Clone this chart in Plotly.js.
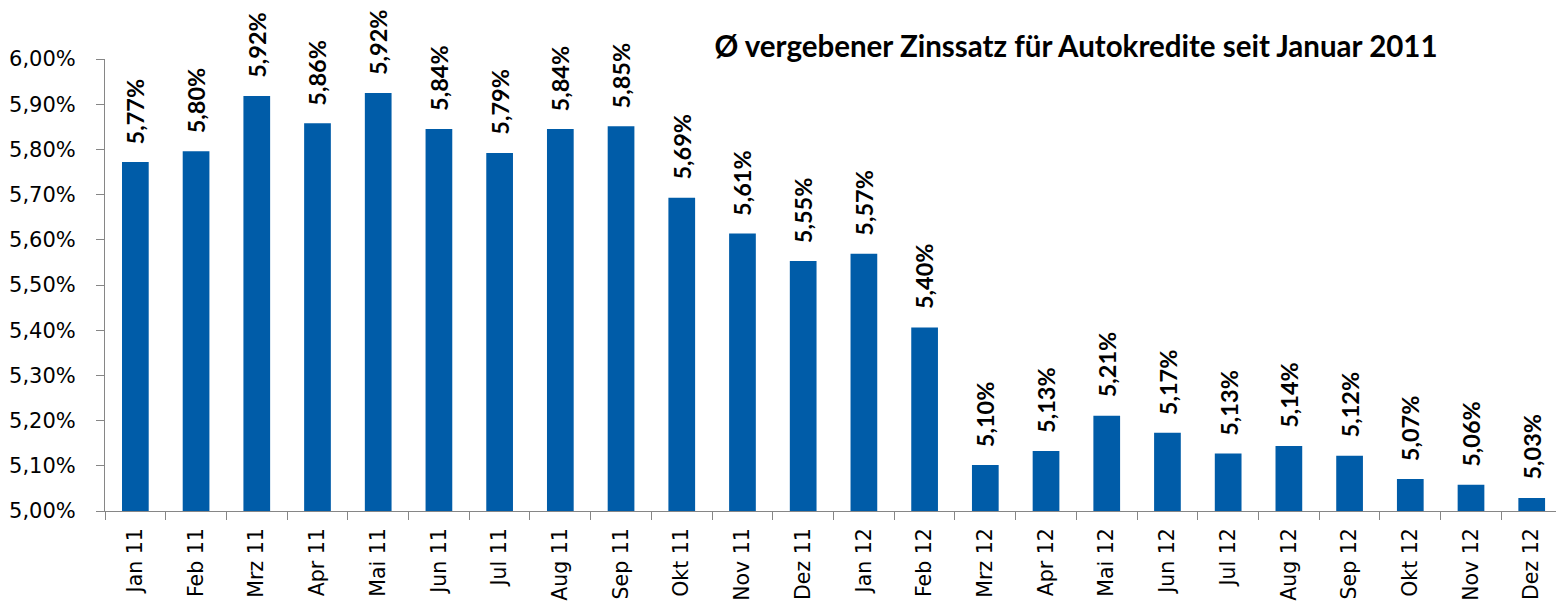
<!DOCTYPE html>
<html>
<head>
<meta charset="utf-8">
<script src="https://cdn.plot.ly/plotly-3.0.1.min.js"></script>
<style>html,body{margin:0;padding:0;background:#fff;}#chart{width:1556px;height:603px;}</style>
</head>
<body>
<div id="chart"></div>
<script>
const categories = ["Jan 11","Feb 11","Mrz 11","Apr 11","Mai 11","Jun 11","Jul 11","Aug 11","Sep 11","Okt 11","Nov 11","Dez 11",
                    "Jan 12","Feb 12","Mrz 12","Apr 12","Mai 12","Jun 12","Jul 12","Aug 12","Sep 12","Okt 12","Nov 12","Dez 12"];
const rates = [5.772, 5.796, 5.918, 5.858, 5.925, 5.845, 5.792, 5.845, 5.851, 5.693, 5.614, 5.553,
               5.569, 5.406, 5.102, 5.133, 5.211, 5.173, 5.127, 5.144, 5.122, 5.071, 5.058, 5.029];
const labels = ["5,77%","5,80%","5,92%","5,86%","5,92%","5,84%","5,79%","5,84%","5,85%","5,69%","5,61%","5,55%",
                "5,57%","5,40%","5,10%","5,13%","5,21%","5,17%","5,13%","5,14%","5,12%","5,07%","5,06%","5,03%"];
const titleText = "Ø vergebener Zinssatz für Autokredite seit Januar 2011";

const trace = {
  type: "bar",
  x: categories,
  y: rates,
  marker: {color: "#005ca8"},
  hoverinfo: "none"
};

const annotations = categories.map((c, i) => ({
  x: c, y: rates[i], xref: "x", yref: "y",
  text: "<b>" + labels[i] + "</b>", showarrow: false, textangle: -90,
  xanchor: "center", yanchor: "bottom", yshift: 16,
  font: {family: "Lato, 'Liberation Sans', sans-serif", size: 23.5, color: "#000"}
}));

const layout = {
  width: 1556, height: 603,
  margin: {l: 105, r: 0, t: 59, b: 92, pad: 0},
  paper_bgcolor: "#fff", plot_bgcolor: "#fff",
  separators: ",.",
  bargap: 0.56,
  showlegend: false,
  title: {
    text: "<b>" + titleText + "</b>",
    x: 1076/1556, xanchor: "center", xref: "container",
    y: 1 - 47/603, yanchor: "middle", yref: "container",
    font: {family: "Lato, 'Liberation Sans', sans-serif", size: 29.5, color: "#000"}
  },
  xaxis: {
    type: "category",
    range: [-0.5, 23.4],
    showgrid: false, zeroline: false,
    showline: true, linecolor: "#868686", linewidth: 1,
    ticks: "outside", tickson: "boundaries", ticklen: 8, tickcolor: "#868686",
    tickangle: -90, ticklabelstandoff: 8,
    tickfont: {family: "'DejaVu Sans', sans-serif", size: 20.5, color: "#000"}
  },
  yaxis: {
    range: [5, 6],
    tickmode: "linear", tick0: 5, dtick: 0.1,
    tickformat: ".2f", ticksuffix: "%",
    showgrid: false, zeroline: false,
    showline: true, linecolor: "#868686", linewidth: 1,
    ticks: "outside", ticklen: 8, tickcolor: "#868686",
    ticklabelstandoff: 16,
    tickfont: {family: "'DejaVu Sans', sans-serif", size: 21, color: "#000"}
  },
  annotations: annotations
};

Plotly.newPlot("chart", [trace], layout, {displayModeBar: false, staticPlot: true});
</script>
</body>
</html>
